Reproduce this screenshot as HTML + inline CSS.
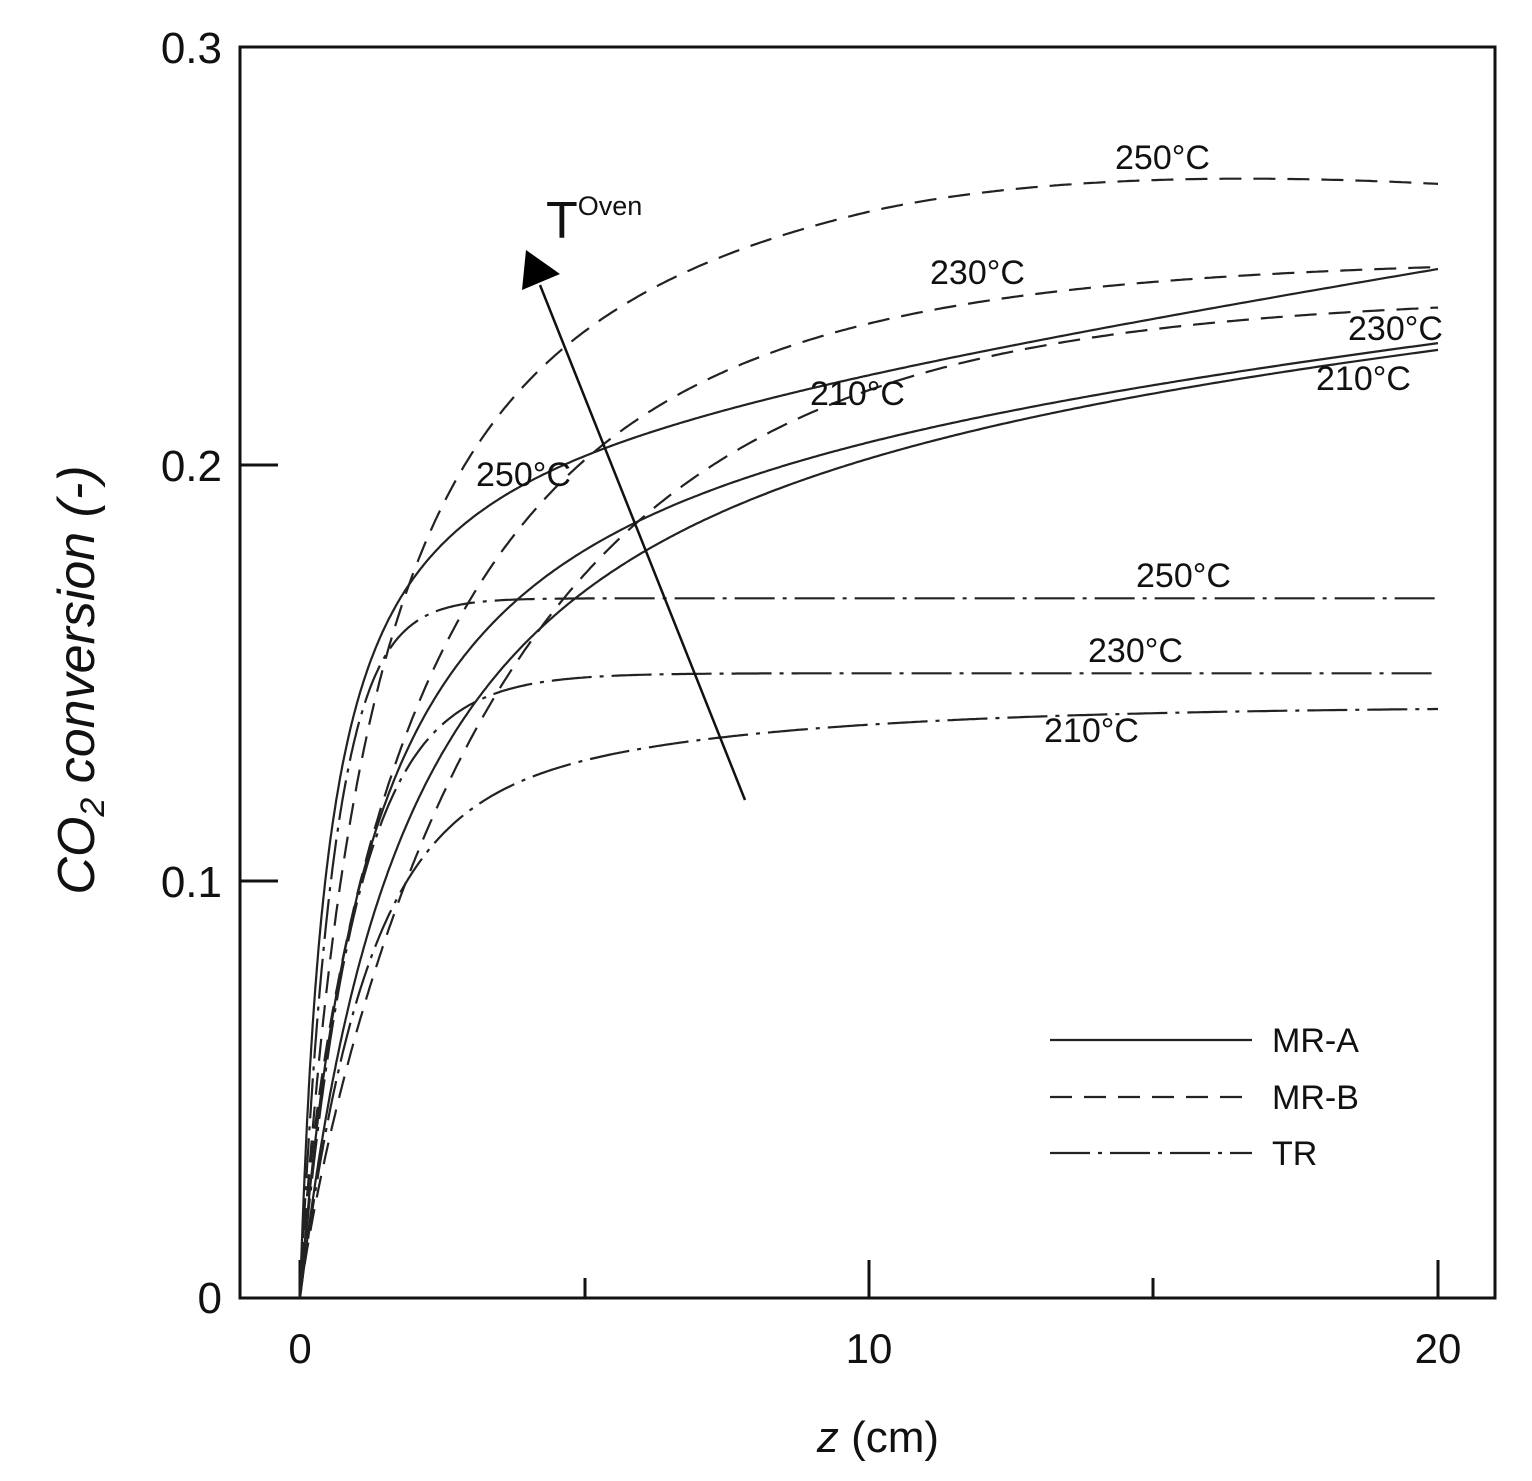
<!DOCTYPE html>
<html><head><meta charset="utf-8"><style>
body{margin:0;background:#fff}
svg text{font-family:"Liberation Sans",sans-serif;fill:#111}
</style></head><body>
<svg id="s" width="1532" height="1476" xmlns="http://www.w3.org/2000/svg">
<rect x="240" y="47" width="1255" height="1251" fill="none" stroke="#111" stroke-width="3"/>
<g stroke="#111" stroke-width="3">
<line x1="240" y1="881" x2="278" y2="881"/><line x1="240" y1="465" x2="278" y2="465"/>
<line x1="300" y1="1298" x2="300" y2="1260"/><line x1="869" y1="1298" x2="869" y2="1260"/><line x1="1438" y1="1298" x2="1438" y2="1260"/>
<line x1="585" y1="1298" x2="585" y2="1278"/><line x1="1153" y1="1298" x2="1153" y2="1278"/>
</g>
<g font-size="44" text-anchor="end">
<text x="222" y="63">0.3</text><text x="222" y="481">0.2</text><text x="222" y="897">0.1</text><text x="222" y="1313">0</text>
</g>
<g font-size="42" text-anchor="middle">
<text x="300" y="1363">0</text><text x="869" y="1363">10</text><text x="1438" y="1363">20</text>
</g>
<text x="878" y="1452" font-size="44" text-anchor="middle"><tspan font-style="italic">z</tspan> (cm)</text>
<text transform="translate(94,680) rotate(-90)" font-size="52" text-anchor="middle" font-style="italic">CO<tspan font-size="34" dy="10">2</tspan><tspan dy="-10"> conversion (-)</tspan></text>
<g id="curves" fill="none" stroke="#222" stroke-width="2.2"></g>
<line x1="745" y1="800" x2="540" y2="285" stroke="#111" stroke-width="2.5"/>
<polygon points="526,250 522,290 560,274" fill="#000"/>
<text x="546" y="238" font-size="52">T<tspan font-size="27" dy="-23">Oven</tspan></text>
<g font-size="34">
<text x="1115" y="169">250°C</text>
<text x="930" y="284">230°C</text>
<text x="1348" y="340">230°C</text>
<text x="810" y="405">210°C</text>
<text x="1316" y="390">210°C</text>
<text x="476" y="486">250°C</text>
<text x="1136" y="587">250°C</text>
<text x="1088" y="662">230°C</text>
<text x="1044" y="742">210°C</text>
</g>
<g stroke="#222" stroke-width="2.2">
<line x1="1050" y1="1040" x2="1252" y2="1040"/>
<line x1="1050" y1="1097" x2="1252" y2="1097" stroke-dasharray="22 12"/>
<line x1="1050" y1="1153" x2="1252" y2="1153" stroke-dasharray="40 8 4 8"/>
</g>
<g font-size="34"><text x="1272" y="1052">MR-A</text><text x="1272" y="1109">MR-B</text><text x="1272" y="1165">TR</text></g>
</svg>
<script>
var g=document.getElementById('curves');
function mk(d,dash){var p=document.createElementNS('http://www.w3.org/2000/svg','path');p.setAttribute('d',d);if(dash)p.setAttribute('stroke-dasharray',dash);g.appendChild(p);}
function X(z){return 300+z*56.9}function Y(c){return 1298-c*4165}
function add(f,dash){var d='';for(var i=0;i<=500;i++){var z=20*Math.pow(i/500,1.6);d+=(i?'L':'M')+X(z).toFixed(1)+' '+Y(f(z)).toFixed(1);}mk(d,dash);}
function hl(A,k,m){return function(z){return A*z/(k+z)+m*z}}
function sx(A,k,p){return function(z){return A*(1-Math.exp(-Math.pow(z/k,p)))}}
add(hl(0.211,0.5,0.00206));
add(hl(0.2186,1.3,0.0012));
add(hl(0.2316,2,0.000854));
var D='22 12';
add(function(z){var f=z>10?1-0.0012*Math.pow(z-10,1.5):1;return 0.2977*z/(1.414+z)*f},D);
add(sx(0.25,2.6,0.75),D);
add(sx(0.241,3.79,0.88),D);
var dd='40 8 4 8';
add(function(z){return 0.168*(1-Math.exp(-z/0.6))},dd);
add(function(z){return 0.150*(1-Math.exp(-z/1.0))},dd);
add(function(z){return 0.11*(1-Math.exp(-z/1.1))+0.032*(1-Math.exp(-z/5))},dd);
</script>
</body></html>
